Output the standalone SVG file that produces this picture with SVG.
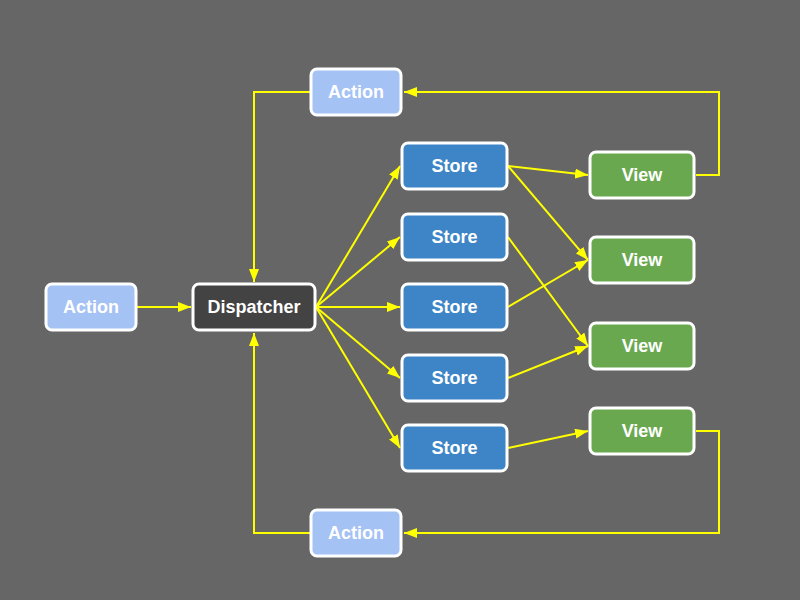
<svg xmlns="http://www.w3.org/2000/svg" width="800" height="600" viewBox="0 0 800 600">
<style>
.n rect{stroke:#fff;stroke-width:3}
.n text{fill:#fff;font-family:"Liberation Sans",Arial,sans-serif;font-weight:bold;font-size:18px;text-anchor:middle;dominant-baseline:central}
.a rect{fill:#a4c2f4}
.d rect{fill:#434343}
.s rect{fill:#3d85c6}
.v rect{fill:#6aa84f}
#edges path{fill:none;stroke:#ffff00;stroke-width:2;marker-end:url(#ah)}
</style>
<defs>
<marker id="ah" viewBox="0 0 13 10" refX="13" refY="5" markerWidth="13" markerHeight="10" markerUnits="userSpaceOnUse" orient="auto">
<path d="M0,0 L13,5 L0,10 Z" fill="#ffff00"/>
</marker>
</defs>
<rect width="800" height="600" fill="#666666"/>
<g id="edges">
<path d="M137,307 H191"/>
<path d="M310,92 H254 V282"/>
<path d="M310,533 H254 V333"/>
<path d="M316,307 L400,166"/>
<path d="M316,307 L400,237"/>
<path d="M316,307 L400,307"/>
<path d="M316,307 L400,378"/>
<path d="M316,307 L400,448"/>
<path d="M508,166 L588,175"/>
<path d="M508,166 L588,260"/>
<path d="M508,237 L588,346"/>
<path d="M508,307 L588,260"/>
<path d="M508,378 L588,346"/>
<path d="M508,448 L588,431"/>
<path d="M696,175 H719 V92 H404"/>
<path d="M696,431 H719 V533 H404"/>
</g>
<g id="action_left" class="n a"><rect x="46" y="284" width="90" height="46" rx="6"/><text x="91" y="307">Action</text></g>
<g id="dispatcher" class="n d"><rect x="193" y="284" width="122" height="46" rx="6"/><text x="254" y="307">Dispatcher</text></g>
<g id="action_top" class="n a"><rect x="311" y="69" width="90" height="46" rx="6"/><text x="356" y="92">Action</text></g>
<g id="action_bottom" class="n a"><rect x="311" y="510" width="90" height="46" rx="6"/><text x="356" y="533">Action</text></g>
<g id="store1" class="n s"><rect x="402" y="143" width="105" height="46" rx="6"/><text x="454.5" y="166">Store</text></g>
<g id="store2" class="n s"><rect x="402" y="214" width="105" height="46" rx="6"/><text x="454.5" y="237">Store</text></g>
<g id="store3" class="n s"><rect x="402" y="284" width="105" height="46" rx="6"/><text x="454.5" y="307">Store</text></g>
<g id="store4" class="n s"><rect x="402" y="355" width="105" height="46" rx="6"/><text x="454.5" y="378">Store</text></g>
<g id="store5" class="n s"><rect x="402" y="425" width="105" height="46" rx="6"/><text x="454.5" y="448">Store</text></g>
<g id="view1" class="n v"><rect x="590" y="152" width="104" height="46" rx="6"/><text x="642" y="175">View</text></g>
<g id="view2" class="n v"><rect x="590" y="237" width="104" height="46" rx="6"/><text x="642" y="260">View</text></g>
<g id="view3" class="n v"><rect x="590" y="323" width="104" height="46" rx="6"/><text x="642" y="346">View</text></g>
<g id="view4" class="n v"><rect x="590" y="408" width="104" height="46" rx="6"/><text x="642" y="431">View</text></g>
</svg>
